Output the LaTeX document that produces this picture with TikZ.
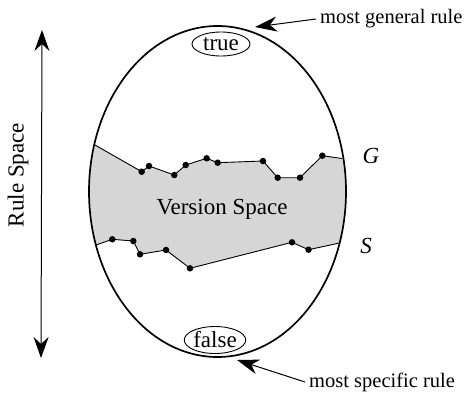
\documentclass[tikz,border=0pt]{standalone}
\usepackage{fontspec}
\setmainfont{Liberation Serif}
\usepackage{tikz}
\usetikzlibrary{shapes.geometric, arrows.meta, positioning, backgrounds}
\tikzset{
  egg/.style={ellipse, draw, line width=1.7pt, inner sep=0pt,
              minimum width=257pt, minimum height=331pt},
  bound/.style={ellipse, draw, line width=0.9pt, inner sep=0pt},
  dot/.style={circle, fill=black, inner sep=0pt, minimum size=6.5pt},
  chain/.style={line width=0.9pt},
  arrow/.style={-{Stealth[length=22pt, width=15pt, inset=7pt]}, line width=1pt},
  label/.style={font=\fontsize{20.5}{25}\selectfont, inner ysep=0pt, inner xsep=4pt},
  setname/.style={font=\fontsize{23}{26}\selectfont\itshape, inner sep=0pt},
}

\begin{document}
\begin{tikzpicture}[x=1pt, y=-1pt, every node/.style={font=\fontsize{23}{26}\selectfont}]
  \useasboundingbox (0,0) rectangle (465,399);

  % hypothesis space
  \node[egg] (space) at (217.5,191.5) {};
  \node[bound, minimum width=58pt, minimum height=24pt] (true)  at (221,44)  {true};
  \node[bound, minimum width=60pt, minimum height=27pt] (false) at (215,340) {false};

  % G boundary
  \coordinate (g0)  at (95,145);
  \node[dot] (g1)  at (141.7,171.7) {};
  \node[dot] (g2)  at (149,166) {};
  \node[dot] (g3)  at (174.3,175) {};
  \node[dot] (g4)  at (185.7,165) {};
  \node[dot] (g5)  at (206.7,158.3) {};
  \node[dot] (g6)  at (217.7,162.7) {};
  \node[dot] (g7)  at (263,161) {};
  \node[dot] (g8)  at (277.7,177.7) {};
  \node[dot] (g9)  at (300,177.7) {};
  \node[dot] (g10) at (322.3,155.7) {};
  \coordinate (g11) at (342,158.5);

  % S boundary
  \coordinate (s0) at (96,245);
  \node[dot] (s1) at (112.3,239.3) {};
  \node[dot] (s2) at (133.3,241) {};
  \node[dot] (s3) at (140,254.3) {};
  \node[dot] (s4) at (166,250) {};
  \node[dot] (s5) at (190,268.3) {};
  \node[dot] (s6) at (292,242.3) {};
  \node[dot] (s7) at (308.5,249.7) {};
  \coordinate (s8) at (339.5,243);

  \begin{scope}[on background layer]
    \clip (217.5,191.5) ellipse [x radius=128.5pt, y radius=165.5pt];
    \fill[black!16] (80,140) -- (g0.center) -- (g1.center) -- (g2.center) -- (g3.center)
      -- (g4.center) -- (g5.center) -- (g6.center) -- (g7.center) -- (g8.center)
      -- (g9.center) -- (g10.center) -- (g11) -- (360,158) -- (360,243)
      -- (s8) -- (s7.center) -- (s6.center) -- (s5.center) -- (s4.center)
      -- (s3.center) -- (s2.center) -- (s1.center) -- (s0) -- (80,250) -- cycle;
  \end{scope}

  \draw[chain] (g0) -- (g1.center) -- (g2.center) -- (g3.center) -- (g4.center)
    -- (g5.center) -- (g6.center) -- (g7.center) -- (g8.center) -- (g9.center)
    -- (g10.center) -- (g11);
  \draw[chain] (s0) -- (s1.center) -- (s2.center) -- (s3.center) -- (s4.center)
    -- (s5.center) -- (s6.center) -- (s7.center) -- (s8);

  \node (vs) at (222,209) {Version Space};
  \node[setname] (G) at (371,156) {G};
  \node[setname] (S) at (366,246) {S};

  % rule space axis
  \coordinate (top) at (42,30);
  \coordinate (bot) at (41,358);
  \draw[arrow, {Stealth[length=21pt, width=15pt, inset=7pt]}-{Stealth[length=21pt, width=15pt, inset=7pt]}] (top) -- (bot);
  \node[rotate=90] (rs) at (18,175) {Rule Space};

  % callouts
  \node[label, anchor=west] (gen) at (316,19) {most general rule};
  \coordinate (gentip) at (255,27);
  \draw[arrow] (gen.west) -- (gentip);
  \node[label, anchor=west] (spec) at (305,382) {most specific rule};
  \coordinate (spectip) at (237,360);
  \draw[arrow] (spec.west) -- (spectip);
\end{tikzpicture}
\end{document}
